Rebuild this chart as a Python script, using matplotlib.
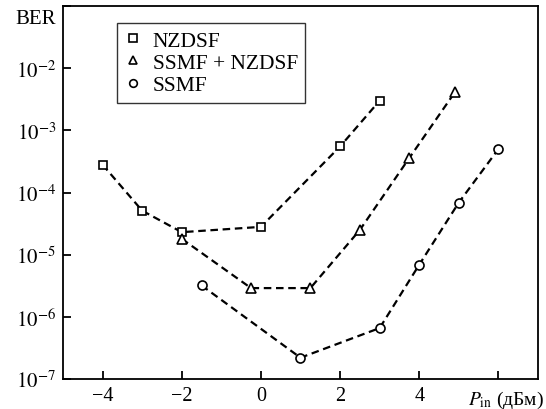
import matplotlib
matplotlib.use("Agg")
import matplotlib.pyplot as plt
from matplotlib.lines import Line2D

plt.rcParams["font.family"] = ["Liberation Serif", "DejaVu Serif"]
plt.rcParams["mathtext.fontset"] = "stix"

# data (P_in in dBm, BER)
nzdsf_x = [-4, -3, -2, 0, 2, 3]
nzdsf_y = [2.8e-4, 5.1e-5, 2.3e-5, 2.8e-5, 5.5e-4, 3.0e-3]
mixed_x = [-2, -0.25, 1.25, 2.5, 3.75, 4.9]
mixed_y = [1.8e-5, 2.9e-6, 2.9e-6, 2.5e-5, 3.6e-4, 4.1e-3]
ssmf_x = [-1.5, 1, 3, 4, 5, 6]
ssmf_y = [3.2e-6, 2.2e-7, 6.6e-7, 6.9e-6, 6.9e-5, 5.0e-4]

labels = ["NZDSF", "SSMF + NZDSF", "SSMF"]
markers = ["s", "^", "o"]
xticks = [-4, -2, 0, 2, 4, 6]
xticklabels = ["\u22124", "\u22122", "0", "2", "4", ""]
yticks = [1e-7, 1e-6, 1e-5, 1e-4, 1e-3, 1e-2, 1e-1]
yticklabels = [r"$10^{-7}$", r"$10^{-6}$", r"$10^{-5}$", r"$10^{-4}$",
               r"$10^{-3}$", r"$10^{-2}$", ""]

fig = plt.figure(figsize=(5.46, 4.10), dpi=100)
ax = fig.add_axes([63 / 546, 30 / 410, 475 / 546, 373 / 410])

series = [(nzdsf_x, nzdsf_y), (mixed_x, mixed_y), (ssmf_x, ssmf_y)]
for (x, y), m in zip(series, markers):
    ax.plot(x, y, color="black", lw=1.6, dashes=(3.4, 2.1),
            marker=m, ms=6.5 if m != "s" else 6, mfc="white", mec="black", mew=1.2)

ax.set_yscale("log")
ax.set_xlim(-5, 7)
ax.set_ylim(1e-7, 1e-1)
ax.set_xticks(xticks)
ax.set_xticklabels(xticklabels, fontsize=14.5)
ax.set_yticks(yticks)
ax.set_yticklabels(yticklabels, fontsize=15)
ax.minorticks_off()
ax.tick_params(direction="in", length=6, width=1.3, pad=5)
for sp in ax.spines.values():
    sp.set_linewidth(1.3)

handles = [Line2D([], [], ls="none", marker=m, ms=5.5, mfc="white", mec="black", mew=1.2)
           for m in markers]
leg = ax.legend(handles, labels, loc="upper left", bbox_to_anchor=(0.114, 0.954),
                borderaxespad=0, fontsize=15.5, frameon=True, fancybox=False,
                handlelength=0.8, handletextpad=0.5, labelspacing=0.1,
                borderpad=0.35)
leg.get_frame().set_edgecolor("black")
leg.get_frame().set_linewidth(1.0)

fig.text(15 / 546, 1 - 20 / 410, "BER", fontsize=15, ha="left", va="center")
fig.text(544 / 546, 1 - 400 / 410, r"$P_{\mathrm{in}}$ (дБм)", fontsize=14,
         ha="right", va="center")

plt.savefig("out.png", dpi=100)
